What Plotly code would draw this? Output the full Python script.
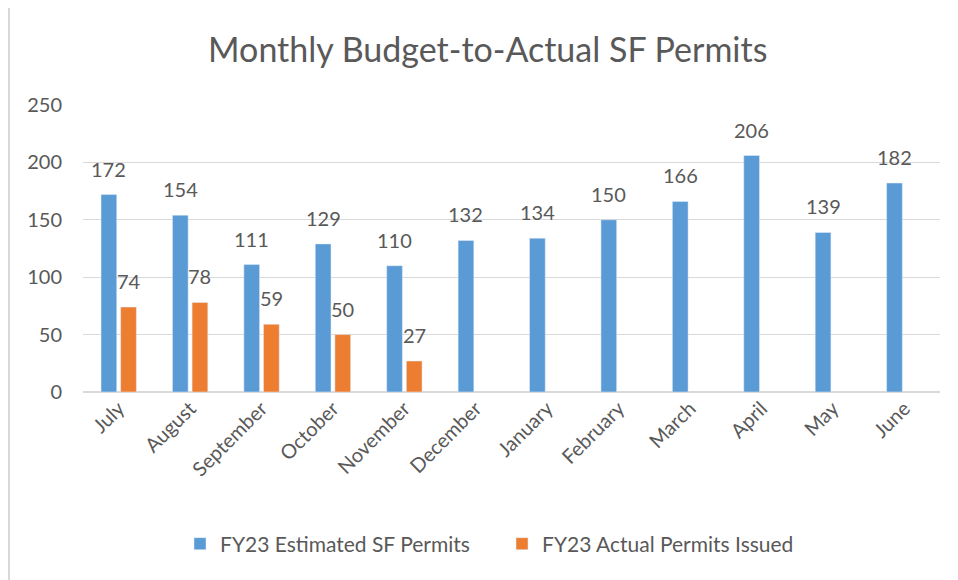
import plotly.graph_objects as go

months = ["July", "August", "September", "October", "November", "December",
          "January", "February", "March", "April", "May", "June"]
estimated = [172, 154, 111, 129, 110, 132, 134, 150, 166, 206, 139, 182]
actual = [74, 78, 59, 50, 27, None, None, None, None, None, None, None]

BLUE = "#5B9BD5"
ORANGE = "#ED7D31"
GREY = "#595959"
FONT = "Lato"

W, H = 950, 572          # page body adds an 8px offset
L, R, T, B = 75, 18, 97, 188
PW, PH = W - L - R, H - T - B

fig = go.Figure()
fig.add_trace(go.Bar(x=months, y=estimated, name="FY23 Estimated SF Permits",
                     marker_color=BLUE))
fig.add_trace(go.Bar(x=months, y=actual, name="FY23 Actual Permits Issued",
                     marker_color=ORANGE))

# data labels
for series, shift in ((estimated, -9.8), (actual, 9.8)):
    for m, v in zip(months, series):
        if v is None:
            continue
        fig.add_annotation(x=m, y=v, text=str(v), showarrow=False,
                           xshift=shift, yshift=12, yanchor="bottom",
                           font=dict(family=FONT, size=20, color=GREY))

# chart border
fig.add_shape(type="rect", xref="paper", yref="paper",
              x0=(1 - L) / PW, y0=-0.9, x1=1.2, y1=(H - T - 1) / PH + 0.0,
              line=dict(color="#D9D9D9", width=2), layer="below")

fig.update_layout(
    width=W, height=H,
    margin=dict(l=L, r=R, t=T, b=B),
    paper_bgcolor="white", plot_bgcolor="white",
    title=dict(text="Monthly Budget-to-Actual SF Permits", x=0.505, xref="container",
               xanchor="center", y=1 - 42 / H, yref="container", yanchor="middle",
               font=dict(family=FONT, size=34, color=GREY)),
    barmode="group", bargap=0.45, bargroupgap=0.2,
    font=dict(family=FONT, size=20, color=GREY),
    showlegend=True,
    legend=dict(orientation="h", x=(180 - 8 - L) / PW, xanchor="left",
                y=-(544 - 392) / PH, yanchor="middle",
                font=dict(family=FONT, size=21, color=GREY),
                itemwidth=30, entrywidth=277, entrywidthmode="pixels",
                traceorder="normal"),
    xaxis=dict(tickangle=-45, showgrid=False, showline=False, ticks="",
               tickfont=dict(family=FONT, size=20, color=GREY)),
    yaxis=dict(range=[0, 250], dtick=50, showgrid=True, gridcolor="#D9D9D9",
               gridwidth=1, zeroline=True, zerolinecolor="#D9D9D9",
               zerolinewidth=1.5, showline=False, ticks="",
               tickfont=dict(family=FONT, size=20, color=GREY), ticklabelstandoff=20),
)

fig.write_html("out.html")
